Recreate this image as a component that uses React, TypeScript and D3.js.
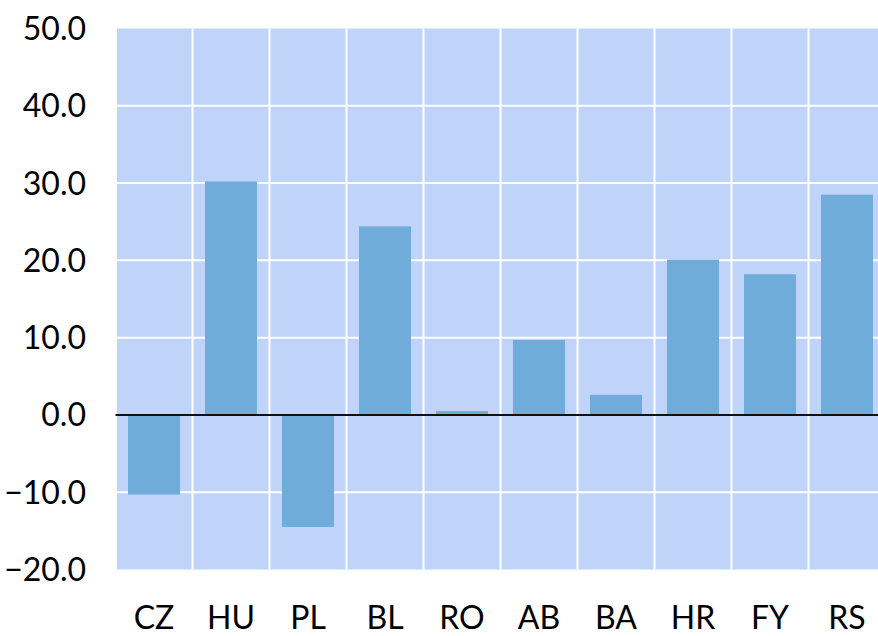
import React, { useEffect, useRef } from 'react';
import * as d3 from 'd3';

const categories = ['CZ', 'HU', 'PL', 'BL', 'RO', 'AB', 'BA', 'HR', 'FY', 'RS'];
const values = [-10.3, 30.2, -14.5, 24.4, 0.5, 9.7, 2.6, 20.1, 18.2, 28.5];
const yTicks = [-20, -10, 0, 10, 20, 30, 40, 50];

const WIDTH = 878;
const HEIGHT = 636;

export default function App() {
  const ref = useRef<SVGSVGElement>(null);

  useEffect(() => {
    if (!ref.current) return;
    const svg = d3.select(ref.current);
    svg.selectAll('*').remove();

    const font = 'Lato, "Open Sans", sans-serif';

    // band scale runs past the right edge, like the original crop
    const x = d3.scaleBand<string>()
      .domain(categories)
      .range([115.5, 885.5])
      .paddingInner(0)
      .paddingOuter(0);

    const y = d3.scaleLinear().domain([-20, 50]).range([569.5, 28.5]);

    // plot background
    svg.append('rect')
      .attr('x', 117)
      .attr('y', y(50))
      .attr('width', WIDTH - 117)
      .attr('height', y(-20) - y(50))
      .attr('fill', '#c0d3f9');

    // vertical gridlines at band boundaries
    svg.selectAll('line.vgrid')
      .data(categories.slice(1))
      .enter()
      .append('line')
      .attr('class', 'vgrid')
      .attr('x1', d => x(d)!)
      .attr('x2', d => x(d)!)
      .attr('y1', y(50))
      .attr('y2', y(-20))
      .attr('stroke', '#ffffff')
      .attr('stroke-width', 2);

    // horizontal gridlines
    svg.selectAll('line.hgrid')
      .data(yTicks.filter(t => t !== 0 && t !== 50 && t !== -20))
      .enter()
      .append('line')
      .attr('class', 'hgrid')
      .attr('x1', 117)
      .attr('x2', WIDTH)
      .attr('y1', d => y(d))
      .attr('y2', d => y(d))
      .attr('stroke', '#ffffff')
      .attr('stroke-width', 2);

    // bars
    const barW = x.bandwidth() * 0.675;
    svg.selectAll('rect.bar')
      .data(values)
      .enter()
      .append('rect')
      .attr('class', 'bar')
      .attr('x', (_, i) => x(categories[i])! + (x.bandwidth() - barW) / 2)
      .attr('y', d => y(Math.max(0, d)))
      .attr('width', barW)
      .attr('height', d => Math.abs(y(d) - y(0)))
      .attr('fill', '#70acd9');

    // zero line
    svg.append('line')
      .attr('x1', 115.5)
      .attr('x2', WIDTH)
      .attr('y1', y(0))
      .attr('y2', y(0))
      .attr('stroke', '#111111')
      .attr('stroke-width', 2);

    // y tick labels
    svg.selectAll('text.ytick')
      .data(yTicks)
      .enter()
      .append('text')
      .attr('class', 'ytick')
      .attr('x', 86)
      .attr('y', d => y(d))
      .attr('dy', '0.36em')
      .attr('text-anchor', 'end')
      .style('font-family', font)
      .style('font-size', '32px')
      .attr('fill', '#000')
      .text(d => d3.format('.1f')(d));

    // x labels
    svg.selectAll('text.xlab')
      .data(categories)
      .enter()
      .append('text')
      .attr('class', 'xlab')
      .attr('x', d => x(d)! + x.bandwidth() / 2)
      .attr('y', 629)
      .attr('text-anchor', 'middle')
      .style('font-family', font)
      .style('font-size', '32px')
      .attr('fill', '#000')
      .text(d => d);
  }, []);

  return (
    <svg
      ref={ref}
      width={WIDTH}
      height={HEIGHT}
      style={{ position: 'fixed', top: 0, left: 0, display: 'block', background: '#fff' }}
    />
  );
}
